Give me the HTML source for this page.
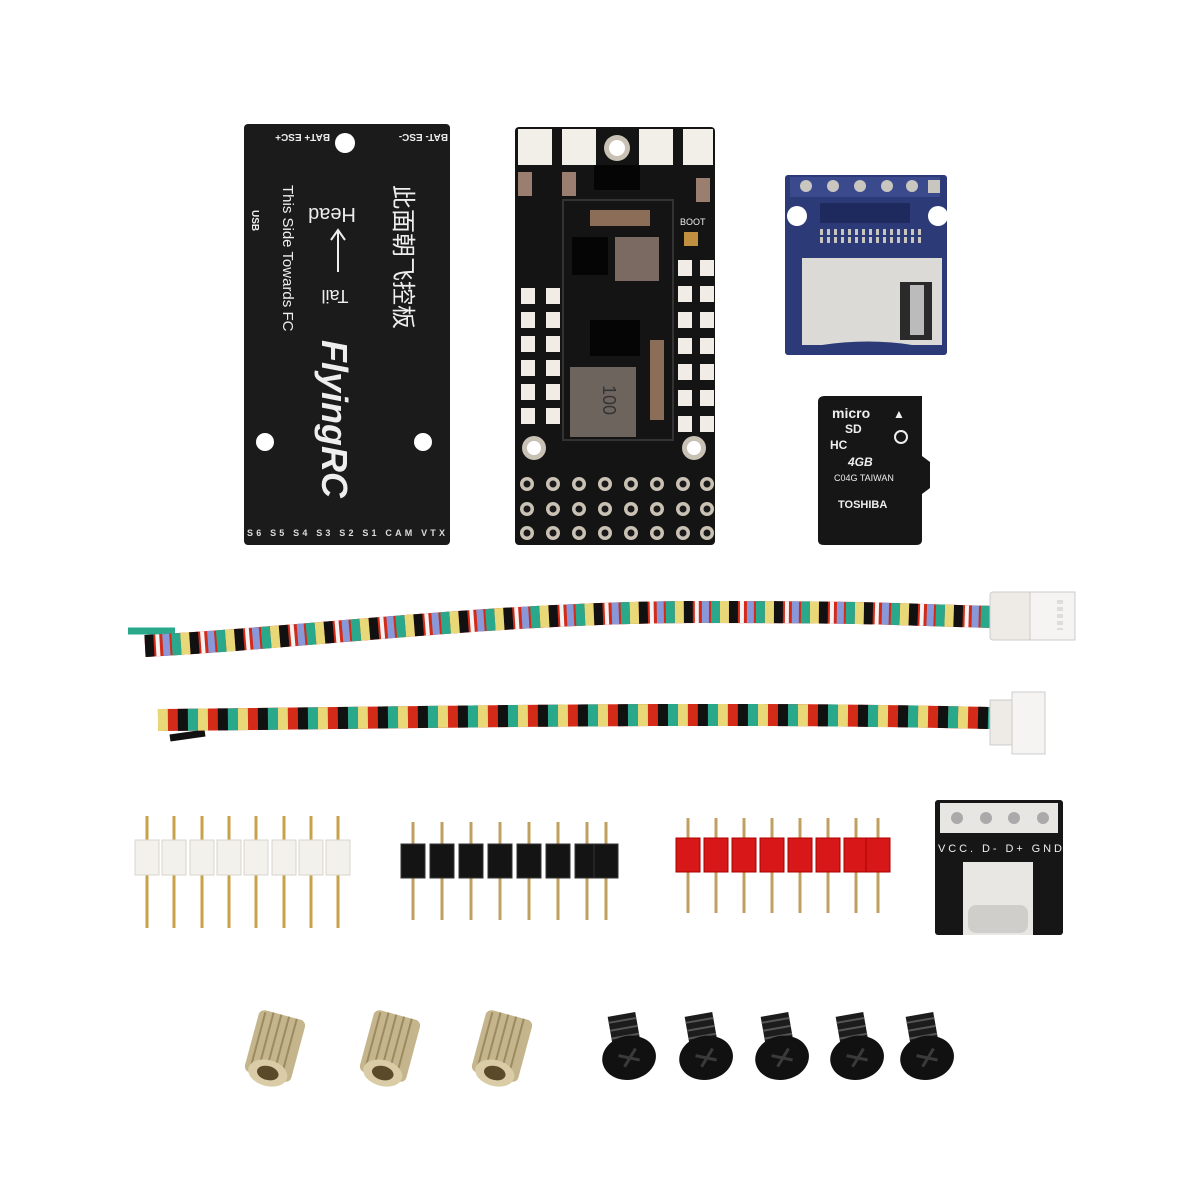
<!DOCTYPE html>
<html><head><meta charset="utf-8"><style>
html,body{margin:0;padding:0;background:#fff;width:1200px;height:1200px;overflow:hidden}
svg{display:block}
text{font-family:"Liberation Sans","Noto Sans CJK SC",sans-serif}
</style></head><body>
<svg width="1200" height="1200" viewBox="0 0 1200 1200" xmlns="http://www.w3.org/2000/svg">
<defs>
<g id="pad"><rect x="0" y="0" width="14" height="16" fill="#f1ede6"/></g>
<g id="th"><circle cx="0" cy="0" r="7" fill="#c9c2b4"/><circle cx="0" cy="0" r="3.5" fill="#1a1a1a"/></g>
<g id="wpin"><line x1="0" y1="-2" x2="0" y2="110" stroke="#c8a24a" stroke-width="3"/><rect x="-12" y="22" width="24" height="35" fill="#f3f1ec" stroke="#d8d4cc" stroke-width="1"/></g>
<g id="bpin"><line x1="0" y1="0" x2="0" y2="98" stroke="#c0a060" stroke-width="3"/><rect x="-12" y="22" width="24" height="34" fill="#141414" stroke="#333" stroke-width="1"/></g>
<g id="rpin"><line x1="0" y1="0" x2="0" y2="95" stroke="#c0a060" stroke-width="3"/><rect x="-12" y="20" width="24" height="34" fill="#d81818" stroke="#a00" stroke-width="1"/></g>
<g id="standoff"><rect x="-24" y="-32" width="48" height="64" rx="6" fill="#c4b58c"/><path d="M-18,-30 V30 M-10,-32 V32 M-2,-32 V32 M6,-32 V32 M14,-32 V32" stroke="#9c8a60" stroke-width="2"/><ellipse cx="0" cy="28" rx="20" ry="13" fill="#d9cca6"/><ellipse cx="0" cy="28" rx="11" ry="7" fill="#5a4a2a"/></g>
<g id="screw"><path d="M-14,-32 h28 v26 h-28z" fill="#1c1c1c"/><path d="M-14,-26 h28 M-14,-18 h28 M-14,-10 h28" stroke="#555" stroke-width="2"/><ellipse cx="0" cy="12" rx="27" ry="22" fill="#111"/><path d="M-10,8 L10,16 M-6,20 L8,4" stroke="#3a3a3a" stroke-width="3"/></g>
</defs>

<!-- Black board -->
<rect x="244" y="124" width="206" height="421" rx="4" fill="#1b1b1b"/>
<circle cx="345" cy="143" r="10" fill="#fff"/>
<circle cx="265" cy="442" r="9" fill="#fff"/>
<circle cx="423" cy="442" r="9" fill="#fff"/>
<g fill="#eee" font-size="10" font-weight="bold">
<text transform="translate(330,130) rotate(180)" x="0" y="-4">BAT+ ESC+</text>
<text transform="translate(448,130) rotate(180)" x="0" y="-4">BAT- ESC-</text>
<text transform="rotate(90 252 210)" x="252" y="210">USB</text>
<text transform="rotate(90 283 185)" x="283" y="185" font-size="15" font-weight="normal">This Side Towards FC</text>
<text transform="rotate(180 332 208)" x="332" y="208" font-size="20" font-weight="normal" text-anchor="middle">Head</text>
<text transform="rotate(180 335 290)" x="335" y="290" font-size="18" font-weight="normal" text-anchor="middle">Tail</text>
<text transform="rotate(90 395 185)" x="395" y="185" font-size="24" font-weight="normal">此面朝飞控板</text>
<text transform="rotate(90 322 340)" x="322" y="340" font-size="36" font-style="italic" font-weight="bold">FlyingRC</text>
</g>
<line x1="338" y1="232" x2="338" y2="272" stroke="#eee" stroke-width="2"/>
<path d="M331,240 L338,230 L345,240" stroke="#eee" stroke-width="2" fill="none"/>
<text x="247" y="536" fill="#ddd" font-size="9" font-weight="bold" textLength="198">S6  S5  S4  S3  S2  S1  CAM VTX</text>

<!-- Middle FC PCB -->
<rect x="515" y="127" width="200" height="418" rx="4" fill="#141414"/>
<rect x="518" y="129" width="34" height="36" fill="#f2efe9"/>
<rect x="562" y="129" width="34" height="36" fill="#f2efe9"/>
<rect x="639" y="129" width="34" height="36" fill="#f2efe9"/>
<rect x="683" y="129" width="30" height="36" fill="#f2efe9"/>
<circle cx="617" cy="148" r="13" fill="#c9c2b4"/><circle cx="617" cy="148" r="8" fill="#fff"/>
<rect x="594" y="165" width="46" height="25" fill="#050505"/>
<rect x="518" y="172" width="14" height="24" fill="#9a7f70"/><rect x="562" y="172" width="14" height="24" fill="#9a7f70"/>
<rect x="696" y="178" width="14" height="24" fill="#9a7f70"/>
<rect x="563" y="200" width="110" height="240" fill="none" stroke="#333" stroke-width="2"/>
<rect x="590" y="210" width="60" height="16" fill="#8c6d58"/>
<rect x="615" y="237" width="44" height="44" fill="#7a6a62"/>
<rect x="572" y="237" width="36" height="38" fill="#050505"/>
<rect x="590" y="320" width="50" height="36" fill="#050505"/>
<rect x="570" y="367" width="66" height="70" fill="#6e645e"/>
<text transform="rotate(90 603 385)" x="603" y="385" fill="#333" font-size="18">100</text>
<rect x="650" y="340" width="14" height="80" fill="#8c6d58"/>
<rect x="684" y="232" width="14" height="14" fill="#c09040"/>
<text x="680" y="225" fill="#eee" font-size="9">BOOT</text>
<g>
<use href="#pad" x="521" y="288"/><use href="#pad" x="546" y="288"/>
<use href="#pad" x="521" y="312"/><use href="#pad" x="546" y="312"/>
<use href="#pad" x="521" y="336"/><use href="#pad" x="546" y="336"/>
<use href="#pad" x="521" y="360"/><use href="#pad" x="546" y="360"/>
<use href="#pad" x="521" y="384"/><use href="#pad" x="546" y="384"/>
<use href="#pad" x="521" y="408"/><use href="#pad" x="546" y="408"/>
<use href="#pad" x="678" y="260"/><use href="#pad" x="700" y="260"/>
<use href="#pad" x="678" y="286"/><use href="#pad" x="700" y="286"/>
<use href="#pad" x="678" y="312"/><use href="#pad" x="700" y="312"/>
<use href="#pad" x="678" y="338"/><use href="#pad" x="700" y="338"/>
<use href="#pad" x="678" y="364"/><use href="#pad" x="700" y="364"/>
<use href="#pad" x="678" y="390"/><use href="#pad" x="700" y="390"/>
<use href="#pad" x="678" y="416"/><use href="#pad" x="700" y="416"/>
</g>
<circle cx="534" cy="448" r="12" fill="#c9c2b4"/><circle cx="534" cy="448" r="7" fill="#fff"/>
<circle cx="694" cy="448" r="12" fill="#c9c2b4"/><circle cx="694" cy="448" r="7" fill="#fff"/>
<g>
<use href="#th" x="527" y="484"/><use href="#th" x="553" y="484"/><use href="#th" x="579" y="484"/><use href="#th" x="605" y="484"/><use href="#th" x="631" y="484"/><use href="#th" x="657" y="484"/><use href="#th" x="683" y="484"/><use href="#th" x="707" y="484"/>
<use href="#th" x="527" y="509"/><use href="#th" x="553" y="509"/><use href="#th" x="579" y="509"/><use href="#th" x="605" y="509"/><use href="#th" x="631" y="509"/><use href="#th" x="657" y="509"/><use href="#th" x="683" y="509"/><use href="#th" x="707" y="509"/>
<use href="#th" x="527" y="533"/><use href="#th" x="553" y="533"/><use href="#th" x="579" y="533"/><use href="#th" x="605" y="533"/><use href="#th" x="631" y="533"/><use href="#th" x="657" y="533"/><use href="#th" x="683" y="533"/><use href="#th" x="707" y="533"/>
</g>

<!-- SD module -->
<rect x="785" y="175" width="162" height="180" rx="3" fill="#2c3a78"/>
<rect x="790" y="177" width="150" height="20" fill="#3a4a8c"/>
<g fill="#c9c6c0"><circle cx="806" cy="186" r="6"/><circle cx="833" cy="186" r="6"/><circle cx="860" cy="186" r="6"/><circle cx="887" cy="186" r="6"/><circle cx="912" cy="186" r="6"/></g>
<rect x="928" y="180" width="12" height="13" fill="#c9c6c0"/>
<circle cx="797" cy="216" r="10" fill="#fff"/><circle cx="938" cy="216" r="10" fill="#fff"/>
<rect x="820" y="203" width="90" height="20" fill="#1e2a5e"/>
<path d="M820,232 h105 M820,240 h105" stroke="#c9c6c0" stroke-width="6" stroke-dasharray="3 4"/>
<path d="M802,258 H942 V345 H912 Q868,338 822,345 H802 Z" fill="#dcdad6"/>
<rect x="900" y="282" width="32" height="58" fill="#2a2a2a"/>
<rect x="910" y="285" width="14" height="50" fill="#bbb"/>

<!-- microSD card -->
<path d="M825,396 H922 V456 L930,462 V488 L922,494 V540 Q922,545 916,545 H824 Q818,545 818,540 V402 Q818,396 825,396Z" fill="#161616"/>
<text x="832" y="418" fill="#eee" font-size="14" font-weight="bold">micro</text>
<text x="845" y="433" fill="#eee" font-size="12" font-weight="bold">SD</text>
<text x="830" y="449" fill="#eee" font-size="12" font-weight="bold">HC</text>
<text x="893" y="418" fill="#eee" font-size="12">▲</text>
<circle cx="901" cy="437" r="6" fill="none" stroke="#eee" stroke-width="2"/>
<text x="848" y="466" fill="#eee" font-size="12" font-weight="bold" font-style="italic">4GB</text>
<text x="834" y="481" fill="#eee" font-size="9">C04G TAIWAN</text>
<text x="838" y="508" fill="#eee" font-size="11" font-weight="bold">TOSHIBA</text>

<!-- Cable 1 -->
<path d="M128,631 H175" stroke="#2aa88c" stroke-width="7" fill="none"/>
<g fill="none" stroke-linecap="butt">
<path d="M145,646 C300,638 500,612 700,612 S900,615 995,617" stroke="#d42a18" stroke-width="22"/>
<path d="M145,646 C300,638 500,612 700,612 S900,615 995,617" stroke="#111" stroke-width="22" stroke-dasharray="9 36" stroke-dashoffset="0"/>
<path d="M145,646 C300,638 500,612 700,612 S900,615 995,617" stroke="#e8d878" stroke-width="22" stroke-dasharray="9 36" stroke-dashoffset="9"/>
<path d="M145,646 C300,638 500,612 700,612 S900,615 995,617" stroke="#2aa88c" stroke-width="22" stroke-dasharray="9 36" stroke-dashoffset="18"/>
<path d="M145,646 C300,638 500,612 700,612 S900,615 995,617" stroke="#8898d8" stroke-width="22" stroke-dasharray="7 38" stroke-dashoffset="27"/>
<path d="M145,646 C300,638 500,612 700,612 S900,615 995,617" stroke="#f4f4f4" stroke-width="22" stroke-dasharray="4 41" stroke-dashoffset="34"/>
</g>
<rect x="990" y="592" width="42" height="48" rx="3" fill="#eeeae6" stroke="#ccc"/>
<rect x="1030" y="592" width="45" height="48" fill="#f6f4f2" stroke="#ccc"/>
<path d="M1060,600 v30" stroke="#ddd" stroke-width="6" stroke-dasharray="4 3"/>

<!-- Cable 2 -->
<path d="M170,738 L205,733" stroke="#111" stroke-width="7"/>
<g fill="none">
<path d="M158,720 C400,718 700,711 990,718" stroke="#d42a18" stroke-width="22"/>
<path d="M158,720 C400,718 700,711 990,718" stroke="#e8d878" stroke-width="22" stroke-dasharray="10 30" stroke-dashoffset="0"/>
<path d="M158,720 C400,718 700,711 990,718" stroke="#2aa88c" stroke-width="22" stroke-dasharray="10 30" stroke-dashoffset="10"/>
<path d="M158,720 C400,718 700,711 990,718" stroke="#111" stroke-width="22" stroke-dasharray="10 30" stroke-dashoffset="20"/>
</g>
<rect x="990" y="700" width="24" height="45" fill="#eeeae6" stroke="#ccc"/>
<rect x="1012" y="692" width="33" height="62" fill="#f6f4f2" stroke="#ccc"/>

<!-- White header -->
<g>
<use href="#wpin" x="147" y="818"/><use href="#wpin" x="174" y="818"/><use href="#wpin" x="202" y="818"/><use href="#wpin" x="229" y="818"/><use href="#wpin" x="256" y="818"/><use href="#wpin" x="284" y="818"/><use href="#wpin" x="311" y="818"/><use href="#wpin" x="338" y="818"/>
</g>
<!-- Black header -->
<g>
<use href="#bpin" x="413" y="822"/><use href="#bpin" x="442" y="822"/><use href="#bpin" x="471" y="822"/><use href="#bpin" x="500" y="822"/><use href="#bpin" x="529" y="822"/><use href="#bpin" x="558" y="822"/><use href="#bpin" x="587" y="822"/><use href="#bpin" x="606" y="822"/>
</g>
<!-- Red header -->
<g>
<use href="#rpin" x="688" y="818"/><use href="#rpin" x="716" y="818"/><use href="#rpin" x="744" y="818"/><use href="#rpin" x="772" y="818"/><use href="#rpin" x="800" y="818"/><use href="#rpin" x="828" y="818"/><use href="#rpin" x="856" y="818"/><use href="#rpin" x="878" y="818"/>
</g>

<!-- USB-C board -->
<rect x="935" y="800" width="128" height="135" rx="3" fill="#161616"/>
<rect x="940" y="803" width="118" height="30" fill="#e8e6e2"/>
<g fill="#aaa"><circle cx="957" cy="818" r="6"/><circle cx="986" cy="818" r="6"/><circle cx="1014" cy="818" r="6"/><circle cx="1043" cy="818" r="6"/></g>
<text x="938" y="852" fill="#eee" font-size="11" textLength="124">VCC. D-  D+ GND</text>
<rect x="963" y="862" width="70" height="73" fill="#e9e7e3"/>
<rect x="968" y="905" width="60" height="28" rx="8" fill="#d0cecb"/>

<!-- Standoffs -->
<use href="#standoff" transform="translate(275,1046) rotate(15)"/>
<use href="#standoff" transform="translate(390,1046) rotate(15)"/>
<use href="#standoff" transform="translate(502,1046) rotate(15)"/>

<!-- Screws -->
<use href="#screw" transform="translate(627,1046) rotate(-10)"/>
<use href="#screw" transform="translate(704,1046) rotate(-10)"/>
<use href="#screw" transform="translate(780,1046) rotate(-10)"/>
<use href="#screw" transform="translate(855,1046) rotate(-10)"/>
<use href="#screw" transform="translate(925,1046) rotate(-10)"/>
</svg>
</body></html>
